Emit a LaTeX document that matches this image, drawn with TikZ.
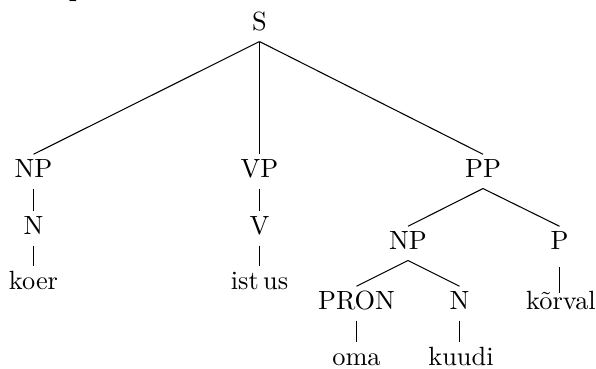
\documentclass[tikz,border=0pt]{standalone}
\begin{document}
\begin{tikzpicture}[x=0.3795pt,y=-0.3795pt,
  lbl/.style={anchor=base,inner sep=0pt,outer sep=0pt},
  cat/.style={anchor=base,text height=7pt,text depth=2pt,inner sep=2pt,outer sep=0pt},
  edge/.style={draw=black,line width=0.4pt}]
\useasboundingbox (0,0) rectangle (596,369);
\begin{scope}
\clip (0,0) rectangle (596,369);
\node[lbl,font=\bfseries] (frag) at (77,-3) {p};
\end{scope}
% level 0
\node[cat] (S) at (259.5,31) {S};
% level 1
\node[cat] (NP1) at (33.5,178) {NP};
\node[cat] (VP) at (259.5,178) {VP};
\node[cat] (PP) at (483,178) {PP};
% NP branch
\node[cat] (N1) at (33.5,235) {N};
\node[cat] (koer) at (33.5,290) {koer};
% VP branch
\node[cat] (V) at (259.5,235) {V};
\node[cat] (istus) at (259.5,290) {ist\,us};
% PP branch
\node[cat] (NP2) at (408,250) {NP};
\node[cat] (P) at (559.5,250) {P};
\node[cat] (PRON) at (356.5,310) {PRON};
\node[cat] (N2) at (459.5,310) {N};
\node[cat] (korval) at (561,310) {k\~orval};
\node[cat] (oma) at (356.5,366) {oma};
\node[cat] (kuudi) at (461,366) {kuudi};
% edges
\draw[edge] (S.south) -- (NP1.north);
\draw[edge] (S.south) -- (VP.north);
\draw[edge] (S.south) -- (PP.north);
\draw[edge] (NP1.south) -- (N1.north);
\draw[edge] (N1.south) -- (koer.north);
\draw[edge] (VP.south) -- (V.north);
\draw[edge] (V.south) -- (istus.north);
\draw[edge] (PP.south) -- (NP2.north);
\draw[edge] (PP.south) -- (P.north);
\draw[edge] (NP2.south) -- (PRON.north);
\draw[edge] (NP2.south) -- (N2.north);
\draw[edge] ([yshift=-2.5pt]P.south) -- ([yshift=-2.5pt]P.south |- korval.north);
\draw[edge] (PRON.south) -- (oma.north);
\draw[edge] (N2.south) -- (N2.south |- kuudi.north);
\end{tikzpicture}
\end{document}
